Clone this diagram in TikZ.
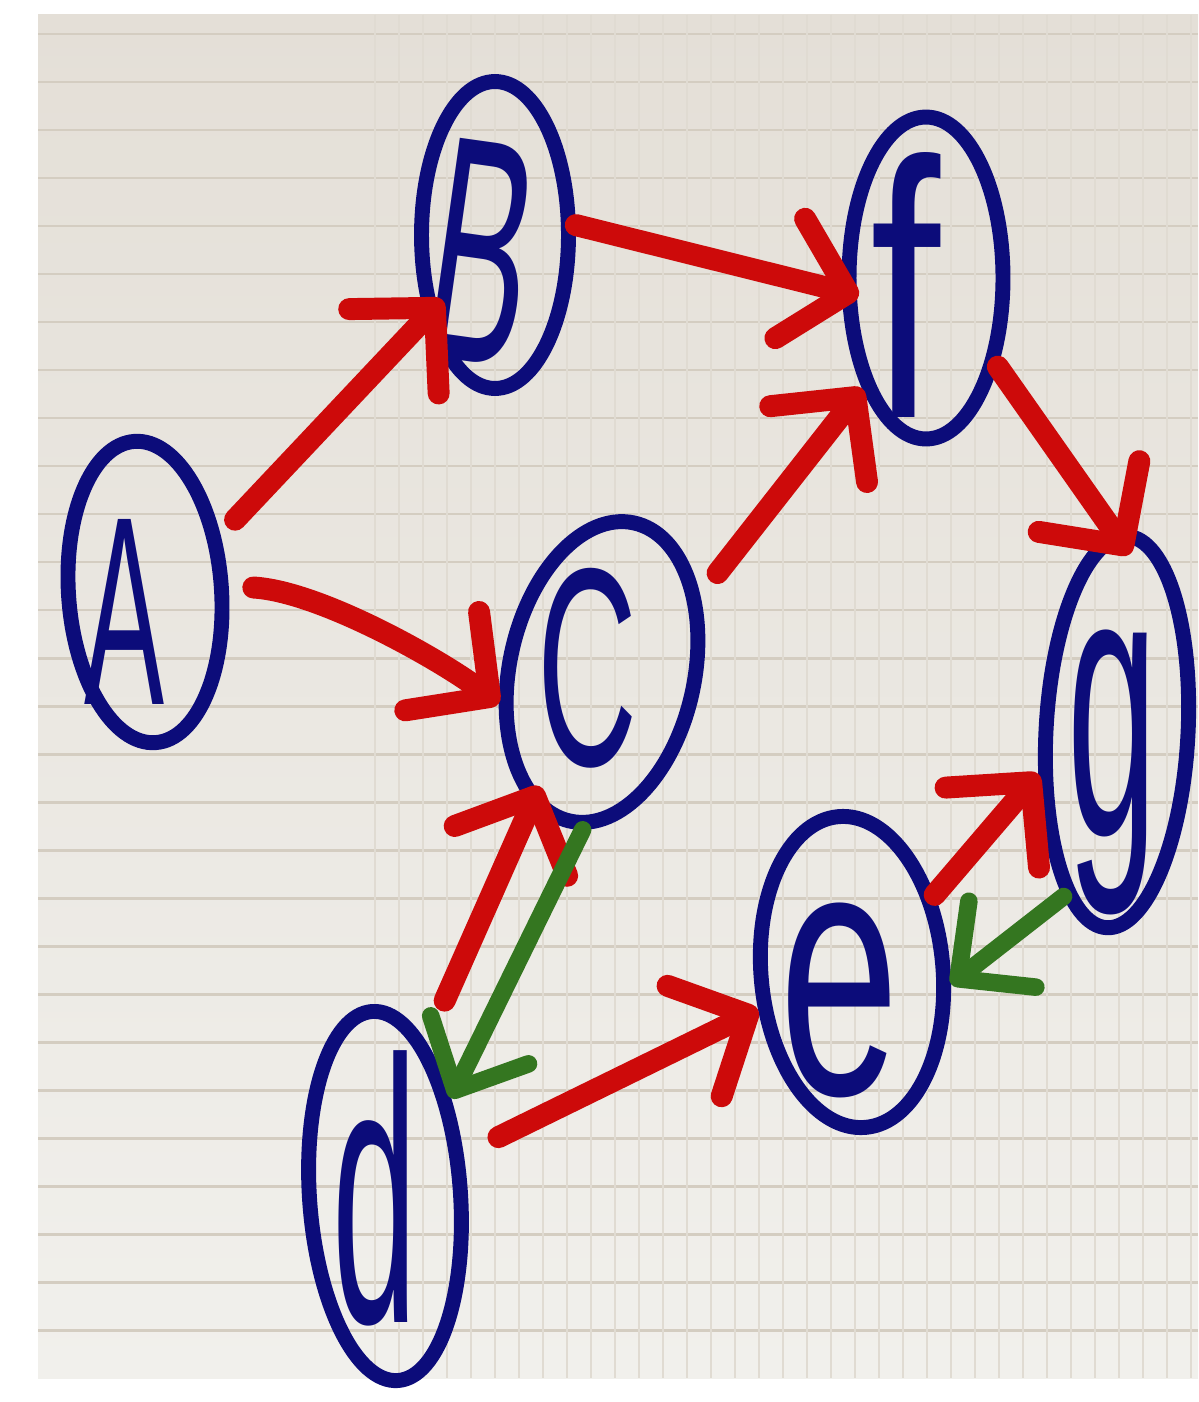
\documentclass[tikz,border=0pt]{standalone}
\usepackage{graphicx}
\usepackage{fontspec}
\setmainfont{Liberation Sans}
\usetikzlibrary{shapes.geometric,arrows.meta}
\definecolor{inkblue}{RGB}{12,12,122}
\definecolor{inkred}{RGB}{205,10,10}
\definecolor{inkgreen}{RGB}{52,118,32}
\definecolor{papertop}{RGB}{228,223,215}
\definecolor{paperbot}{RGB}{241,240,236}
\definecolor{gridh}{RGB}{212,205,193}
\definecolor{gridv}{RGB}{224,219,210}
\begin{document}
\begin{tikzpicture}[x=0.02cm,y=-0.02cm,
  ring/.style={ellipse, draw=inkblue, line width=8.5pt, inner sep=0pt},
  letter/.style={text=inkblue, inner sep=0pt},
  redarrow/.style={draw=inkred, line width=12.5pt, line cap=round, line join=round,
    -{Straight Barb[length=34pt, width=70pt, round]}},
  greenarrow/.style={draw=inkgreen, line width=10pt, line cap=round, line join=round,
    -{Straight Barb[length=32pt, width=62pt, round]}},
  hline/.style={draw=gridh, line width=1.7pt},
  vline/.style={draw=gridv, line width=0.9pt}]
\useasboundingbox (0,0) rectangle (1198,1402);
\fill[white] (0,0) rectangle (1198,1402);
\shade[top color=papertop, bottom color=paperbot] (38,15) rectangle (1198,1378);
\foreach \yy in {34,82,...,1370} \draw[hline] (38,\yy) -- (1198,\yy);
\foreach \xx in {375,399,...,1198} \draw[vline] (\xx,15) -- (\xx,1378);

% vertices
\node[ring, minimum width=3.06cm, minimum height=6.04cm, rotate=4] (A) at (145,592) {};
\node[ring, minimum width=2.94cm, minimum height=6.14cm] (B) at (495,235) {};
\node[ring, minimum width=3.08cm, minimum height=6.44cm] (f) at (926,278) {};
\node[ring, minimum width=3.70cm, minimum height=6.10cm, rotate=-12] (C) at (602,672) {};
\node[ring, minimum width=2.84cm, minimum height=7.84cm, rotate=-3] (g) at (1117,732) {};
\node[ring, minimum width=3.64cm, minimum height=6.24cm, rotate=5] (e) at (852,972) {};
\node[ring, minimum width=3.02cm, minimum height=7.40cm, rotate=4] (d) at (385,1196) {};

% letters
\node[letter] (Atxt) at (125,612) {\resizebox*{1.6cm}{3.7cm}{A}};
\node[letter, rotate=-8] (Btxt) at (482,252) {\resizebox*{2.0cm}{4.4cm}{B}};
\node[letter] (ftxt) at (905,285) {\resizebox*{1.4cm}{5.3cm}{f}};
\node[letter] (Ctxt) at (588,668) {\resizebox*{2.0cm}{4.0cm}{C}};
\node[letter] (gtxt) at (1112,772) {\resizebox*{1.8cm}{5.7cm}{g}};
\node[letter] (etxt) at (840,1000) {\resizebox*{2.4cm}{3.9cm}{e}};
\node[letter] (dtxt) at (375,1188) {\resizebox*{1.7cm}{5.5cm}{d}};

% edges
\draw[redarrow, shorten <=12pt, shorten >=-14pt] (A.33) -- (B.230);
\draw[redarrow, shorten <=14pt] (A.0) .. controls +(90,5) and +(-60,-45) .. (C.209);
\draw[redarrow, shorten >=-10pt] (B.7) -- (f.189);
\draw[redarrow, shorten <=16pt] (C.50) -- (f.240);
\draw[redarrow, shorten >=-16pt] (f.-51) -- (g.94);
\draw[redarrow, shorten <=26pt, shorten >=-12pt] (d.71) -- (C.254);
\draw[greenarrow] (C.275) -- (d.52);
\draw[redarrow, shorten <=22pt] (d.24) -- (e.197);
\draw[redarrow] (e.38) -- (g.211);
\draw[greenarrow] (g.255) -- (e.-12);
\end{tikzpicture}
\end{document}
